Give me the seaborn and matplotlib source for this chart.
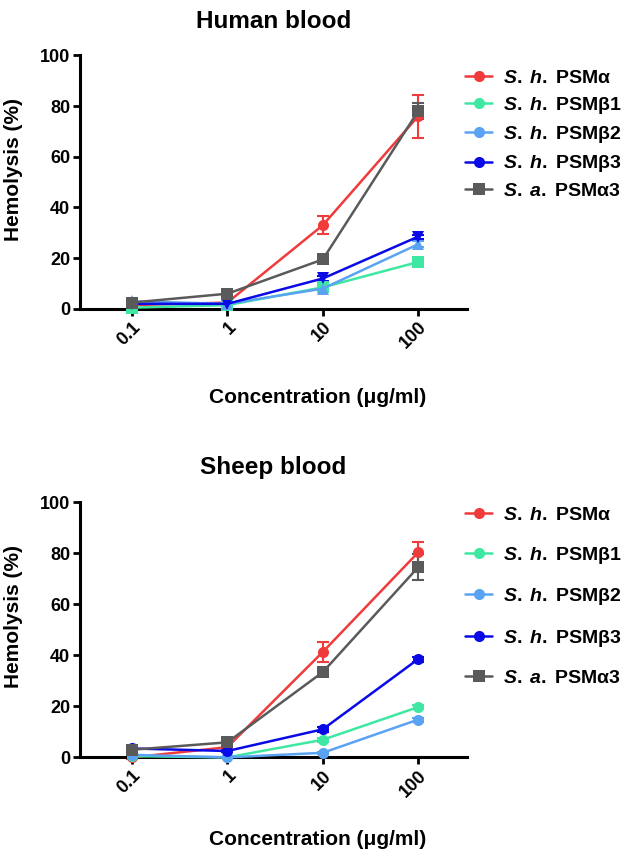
"""Hemolysis by S. haemolyticus / S. aureus PSMs, human and sheep blood."""
import matplotlib
matplotlib.use("Agg")
import matplotlib.pyplot as plt
from matplotlib.lines import Line2D
import numpy as np
import pandas as pd
import seaborn as sns

sns.set_theme(style="ticks")
plt.rcParams.update({
    "font.family": ["Liberation Sans", "DejaVu Sans"],
    "font.weight": "bold",
    "text.color": "black",
    "axes.labelcolor": "black",
    "xtick.color": "black",
    "ytick.color": "black",
    "axes.edgecolor": "black",
    "mathtext.fontset": "custom",
    "mathtext.it": "Liberation Sans:italic:bold",
    "mathtext.rm": "Liberation Sans:bold",
})

CONC = [0.1, 1, 10, 100]
PEPTIDES = ["S. h. PSMα", "S. h. PSMβ1", "S. h. PSMβ2", "S. h. PSMβ3", "S. a. PSMα3"]
LABELS = [r"$\it{S.\;h.\;}$PSMα", r"$\it{S.\;h.\;}$PSMβ1", r"$\it{S.\;h.\;}$PSMβ2",
          r"$\it{S.\;h.\;}$PSMβ3", r"$\it{S.\;a.\;}$PSMα3"]
COLORS = ["#ef3b3b", "#3ee8a2", "#5aa2f2", "#0a0ae6", "#5a5a5a"]

# mean hemolysis (%) per peptide at 0.1, 1, 10, 100 µg/ml
human_mean = {
    "S. h. PSMα": [1.5, 2.5, 33.0, 76.0],
    "S. h. PSMβ1": [0.5, 1.5, 8.5, 18.5],
    "S. h. PSMβ2": [3.0, 2.0, 8.0, 25.5],
    "S. h. PSMβ3": [2.0, 2.0, 12.0, 28.5],
    "S. a. PSMα3": [2.5, 6.0, 19.5, 78.0],
}
human_err = {
    "S. h. PSMα": [0.8, 0.8, 3.5, 8.5],
    "S. h. PSMβ1": [0.3, 0.3, 0.8, 0.8],
    "S. h. PSMβ2": [0.5, 0.3, 1.0, 1.2],
    "S. h. PSMβ3": [0.3, 0.3, 0.8, 0.8],
    "S. a. PSMα3": [0.5, 0.8, 0.8, 3.0],
}
sheep_mean = {
    "S. h. PSMα": [0.0, 4.0, 41.3, 80.3],
    "S. h. PSMβ1": [0.5, 0.0, 6.9, 19.7],
    "S. h. PSMβ2": [1.0, 0.0, 1.8, 14.8],
    "S. h. PSMβ3": [3.5, 2.5, 11.0, 38.5],
    "S. a. PSMα3": [3.0, 5.9, 33.4, 74.5],
}
sheep_err = {
    "S. h. PSMα": [0.5, 0.8, 3.8, 4.0],
    "S. h. PSMβ1": [0.3, 0.3, 0.8, 0.8],
    "S. h. PSMβ2": [0.3, 0.3, 0.5, 0.8],
    "S. h. PSMβ3": [1.0, 0.5, 1.0, 1.0],
    "S. a. PSMα3": [0.5, 0.5, 0.8, 5.2],
}

human_markers = ["o", "s", "^", "v", "s"]
sheep_markers = ["o", "o", "o", "o", "s"]


def long_form(means):
    rows = []
    for pep in PEPTIDES:
        for c, v in zip(CONC, means[pep]):
            rows.append({"conc": c, "hemolysis": v, "peptide": pep})
    return pd.DataFrame(rows)


def panel(ax, means, errs, markers, title, leg_top, leg_spacing, xlab_y):
    df = long_form(means)
    sns.lineplot(
        data=df, x="conc", y="hemolysis", hue="peptide", style="peptide",
        hue_order=PEPTIDES, style_order=PEPTIDES,
        palette=COLORS, markers=markers, dashes=False,
        markersize=8, markeredgewidth=0, lw=1.8, ax=ax, legend=False,
        clip_on=False, zorder=3,
    )
    for pep, col in zip(PEPTIDES, COLORS):
        ax.errorbar(CONC, means[pep], yerr=errs[pep], fmt="none", ecolor=col,
                    elinewidth=1.5, capsize=4, capthick=1.5, clip_on=False, zorder=2)

    ax.set_xscale("log")
    ax.set_xlim(10 ** -1.545, 10 ** 2.51)
    ax.set_ylim(0, 100)
    ax.set_xticks(CONC)
    ax.set_xticklabels(["0.1", "1", "10", "100"], rotation=45, ha="right",
                       rotation_mode="anchor", fontsize=13, fontweight="bold")
    ax.xaxis.set_minor_locator(matplotlib.ticker.NullLocator())
    ax.set_yticks([0, 20, 40, 60, 80, 100])
    ax.set_yticklabels(["0", "20", "40", "60", "80", "100"], fontsize=13, fontweight="bold")
    ax.tick_params(width=2, length=5, direction="out", pad=2)
    for s in ["left", "bottom"]:
        ax.spines[s].set_linewidth(2.2)
    sns.despine(ax=ax)

    ax.set_xlabel("Concentration (μg/ml)", fontsize=15, fontweight="bold")
    ax.xaxis.set_label_coords(0.615, xlab_y)
    ax.set_ylabel("Hemolysis (%)", fontsize=15, fontweight="bold")
    ax.yaxis.set_label_coords(-0.147, 0.55)
    ax.set_title(title, fontsize=17.5, fontweight="bold", pad=20)

    handles = [
        Line2D([], [], color=col, marker=("s" if i == 4 else "o"), markersize=8,
               markeredgewidth=0, lw=1.8)
        for i, col in enumerate(COLORS)
    ]
    ax.legend(handles, LABELS, loc="upper left", bbox_to_anchor=(0.995, leg_top),
              frameon=False, fontsize=14, handlelength=1.4, handletextpad=0.55,
              labelspacing=leg_spacing, borderaxespad=0, borderpad=0)


fig = plt.figure(figsize=(6.3, 8.51), dpi=100)
ax1 = fig.add_axes([0.127, 0.637, 0.614, 0.298])
ax2 = fig.add_axes([0.127, 0.110, 0.614, 0.300])
panel(ax1, human_mean, human_err, human_markers, "Human blood", 0.945, 0.42, -0.31)
panel(ax2, sheep_mean, sheep_err, sheep_markers, "Sheep blood", 0.982, 1.05, -0.285)

fig.savefig("out.png", dpi=100)
